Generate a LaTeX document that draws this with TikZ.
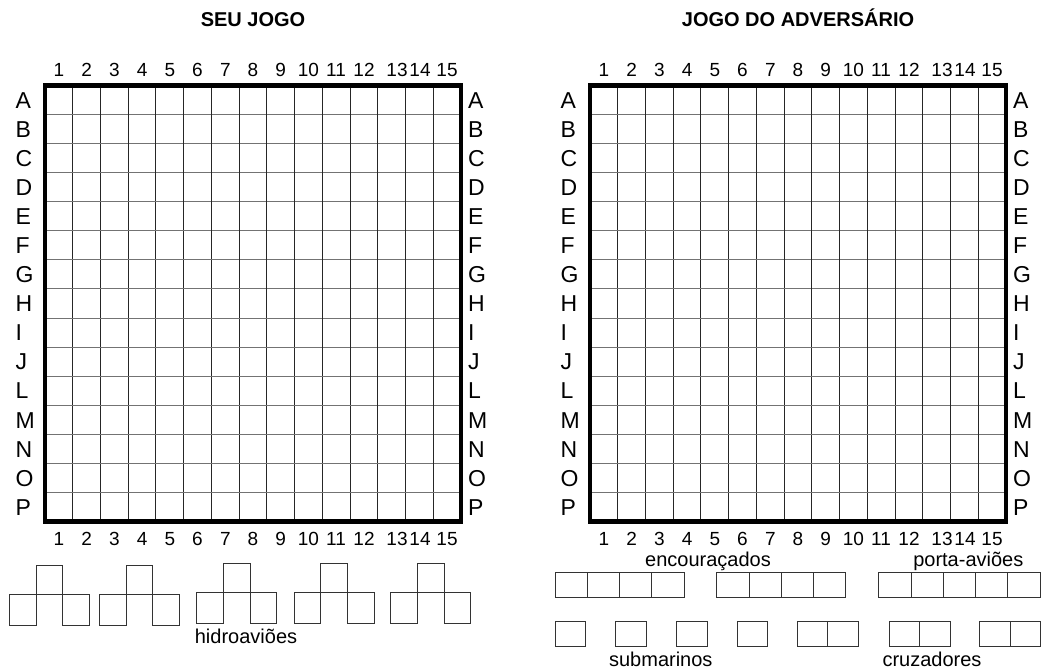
\documentclass[tikz,border=0pt]{standalone}
\usepackage{fontspec}
\setmainfont{Liberation Sans}
\usetikzlibrary{positioning}
% hidroaviao: x esquerdo, topo, meio, base
\newcommand{\hidroaviao}[4]{%
  \draw[casa] (#1,#3) rectangle ({#1+26.7},#4);
  \draw[casa] ({#1+26.7},#2) rectangle ({#1+53.4},#3);
  \draw[casa] ({#1+53.4},#3) rectangle ({#1+80},#4);
}

\begin{document}
\begin{tikzpicture}[x=1pt,y=-1pt,
    grade/.style={line width=1pt},
    borda/.style={line width=4.5pt},
    letra/.style={font=\fontsize{23}{23}\selectfont,inner sep=0pt,text height=16.5pt,text depth=0pt},
    numero/.style={font=\fontsize{19}{19}\selectfont,inner sep=0pt,text height=13.4pt,text depth=0pt},
    titulo/.style={font=\fontsize{20}{20}\selectfont\bfseries,inner sep=0pt,anchor=base},
    rotulo/.style={font=\fontsize{20}{20}\selectfont,inner sep=0pt,anchor=base},
    casa/.style={draw=black!80,line width=1pt}
]
\useasboundingbox (0,0) rectangle (1041,671);

% titulos
\node[titulo] (seu) at (253,26.7) {SEU JOGO};
\node[titulo] (adv) at (798,26.7) {JOGO DO ADVERS\'ARIO};

% os dois tabuleiros
\foreach \gx/\lado in {45/esq,590/dir} {
  \foreach \k in {1,...,14} {
    \draw[black!85,grade] ({\gx+\k*27.733},85.5) -- ({\gx+\k*27.733},521.5);
    \draw[black!55,grade] (\gx,{85.5+\k*29.067}) -- ({\gx+416},{85.5+\k*29.067});
  }
  \draw[borda] (\gx,85.5) rectangle ({\gx+416},521.5);
  \foreach \l [count=\i] in {A,B,C,D,E,F,G,H,I,J,L,M,N,O,P} {
    \node[letra,anchor=west] (\lado-a\i) at ({\gx-29.5},{85.5+(\i-0.5)*29.067}) {\l};
    \node[letra,anchor=west] (\lado-b\i) at ({\gx+423},{85.5+(\i-0.5)*29.067}) {\l};
  }
  \foreach \n/\px in {1/13.9,2/41.6,3/69.3,4/97.1,5/124.8,6/152.5,7/180.3,8/208,
                      9/235.7,10/263.4,11/291,12/319,13/352,14/375,15/402} {
    \node[numero] (\lado-t\n) at ({\gx+\px},70) {\n};
    \node[numero] (\lado-u\n) at ({\gx+\px},538.5) {\n};
  }
}

% hidroavioes
\hidroaviao{9.3}{565}{594.3}{625.3}
\hidroaviao{99.3}{565}{594.3}{625.3}
\hidroaviao{196.7}{563.3}{592.7}{623.3}
\hidroaviao{294}{563.3}{592.7}{623.3}
\hidroaviao{390.7}{563.3}{592.7}{623.3}
\node[rotulo] (hidro) at (246,643) {hidroaviões};

% encouracados e porta-avioes
\foreach \bx/\n in {555/4,716.7/4,878.7/5} {
  \foreach \c in {1,...,\n}
    \draw[casa] ({\bx+(\c-1)*32.3},572.3) rectangle ++(32.3,25);
}
\node[rotulo] (encou) at (708,566.7) {encouraçados};
\node[rotulo] (porta) at (968.3,566.7) {porta-aviões};

% submarinos
\foreach \bx in {555,615.7,676.3,737}
  \draw[casa] (\bx,621.7) rectangle ++(30.7,25);
% cruzadores
\foreach \bx in {797.3,889,979.5} {
  \draw[casa] (\bx,621.7) rectangle ++(30.5,25);
  \draw[casa] ({\bx+30.5},621.7) rectangle ++(30.5,25);
}
\node[rotulo] (sub) at (660.8,666.7) {submarinos};
\node[rotulo] (cruz) at (932,666.7) {cruzadores};
\end{tikzpicture}
\end{document}
